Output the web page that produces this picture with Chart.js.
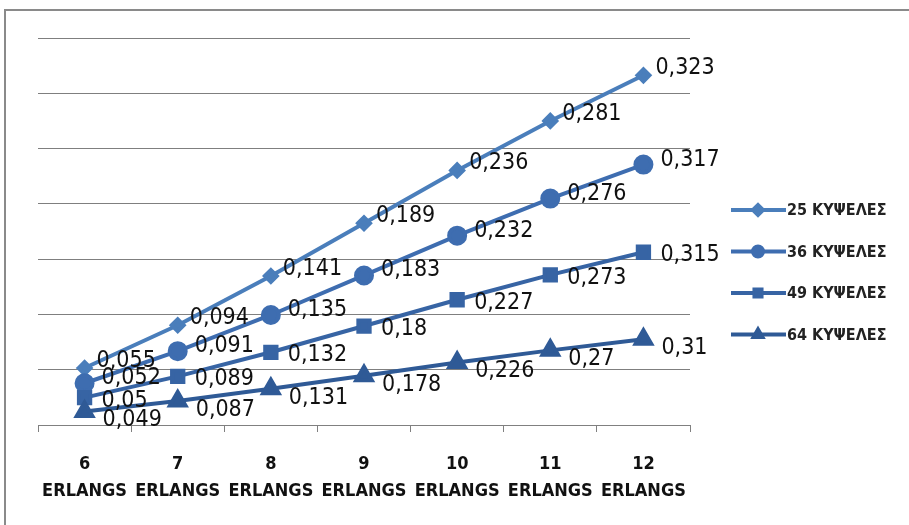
<!DOCTYPE html>
<html>
<head>
<meta charset="utf-8">
<script src="https://cdn.jsdelivr.net/npm/chart.js@4/dist/chart.umd.min.js"></script>
<style>
  html, body { margin: 0; padding: 0; background: #fff; }
  #wrap { width: 909px; height: 525px; }
</style>
</head>
<body>
<div id="wrap"><canvas id="chart"></canvas></div>
<script>
const categories = [['6', 'ERLANGS'], ['7', 'ERLANGS'], ['8', 'ERLANGS'], ['9', 'ERLANGS'], ['10', 'ERLANGS'], ['11', 'ERLANGS'], ['12', 'ERLANGS']];
const seriesNames = ['25 ΚΥΨΕΛΕΣ', '36 ΚΥΨΕΛΕΣ', '49 ΚΥΨΕΛΕΣ', '64 ΚΥΨΕΛΕΣ'];
const cells25 = [0.055, 0.094, 0.141, 0.189, 0.236, 0.281, 0.323];
const cells36 = [0.052, 0.091, 0.135, 0.183, 0.232, 0.276, 0.317];
const cells49 = [0.05, 0.089, 0.132, 0.18, 0.227, 0.273, 0.315];
const cells64 = [0.049, 0.087, 0.131, 0.178, 0.226, 0.27, 0.31];

const font = "'Liberation Sans Narrow', 'DejaVu Sans Condensed', sans-serif";

// Excel stacked line: first series drawn at the bottom, legend listed top-down
const series = [
  { name: seriesNames[3], data: cells64, color: '#2F5A96', style: 'triangle', radius: 9, dx: 18, dy: 9 },
  { name: seriesNames[2], data: cells49, color: '#3764A4', style: 'rect', radius: 8, dx: 17, dy: 3 },
  { name: seriesNames[1], data: cells36, color: '#3E6DB0', style: 'circle', radius: 8, dx: 17, dy: -5 },
  { name: seriesNames[0], data: cells25, color: '#4A7EBB', style: 'rectRot', radius: 6, dx: 12, dy: -7 }
];

const labelsAndFrame = {
  id: 'labelsAndFrame',
  afterDatasetsDraw(chart) {
    const ctx = chart.ctx;
    ctx.save();
    ctx.font = '23px ' + font;
    ctx.fillStyle = '#111';
    ctx.textAlign = 'left';
    ctx.textBaseline = 'middle';
    chart.data.datasets.forEach((ds, i) => {
      const meta = chart.getDatasetMeta(i);
      meta.data.forEach((pt, j) => {
        const txt = String(ds.data[j]).replace('.', ',');
        ctx.fillText(txt, pt.x + ds.dx, pt.y + ds.dy);
      });
    });
    ctx.restore();
  },
  afterDraw(chart) {
    const ctx = chart.ctx;
    ctx.save();
    // frame
    ctx.strokeStyle = '#8a8a8a';
    ctx.lineWidth = 2;
    ctx.beginPath();
    ctx.moveTo(5, 525);
    ctx.lineTo(5, 10);
    ctx.lineTo(909, 10);
    ctx.stroke();
    // legend, top item = last dataset
    const items = chart.data.datasets.slice().reverse();
    ctx.font = 'bold 16px ' + font;
    ctx.textBaseline = 'middle';
    items.forEach((ds, k) => {
      const y = 210 + k * 41.5;
      ctx.strokeStyle = ds.borderColor;
      ctx.lineWidth = 4;
      ctx.beginPath();
      ctx.moveTo(731, y);
      ctx.lineTo(786, y);
      ctx.stroke();
      Chart.helpers.drawPoint(ctx, {
        pointStyle: ds.pointStyle, radius: Math.min(ds.pointRadius, 5), rotation: 0, borderWidth: 1
      }, 758, y);
      ctx.fillStyle = ds.borderColor;
      ctx.fill();
      ctx.fillStyle = '#222';
      ctx.fillText(ds.label, 787, y + 1);
    });
    ctx.restore();
  }
};

new Chart(document.getElementById('chart'), {
  type: 'line',
  data: {
    labels: categories,
    datasets: series.map(s => ({
      label: s.name,
      data: s.data,
      borderColor: s.color,
      backgroundColor: s.color,
      pointBackgroundColor: s.color,
      pointBorderColor: s.color,
      borderWidth: 4,
      pointStyle: s.style,
      pointRadius: s.radius,
      pointHoverRadius: s.radius,
      fill: false,
      tension: 0,
      dx: s.dx,
      dy: s.dy
    }))
  },
  options: {
    responsive: true,
    maintainAspectRatio: false,
    animation: false,
    layout: { padding: { left: 38, right: 219, top: 38, bottom: 0 } },
    plugins: {
      legend: { display: false },
      tooltip: { enabled: false }
    },
    scales: {
      x: {
        offset: true,
        afterFit: s => { s.height = 100; },
        grid: { drawOnChartArea: false, drawTicks: true, tickLength: 7, color: '#808080', offset: true },
        border: { display: true, color: '#808080', width: 1 },
        ticks: {
          color: '#111',
          padding: 19,
          maxRotation: 0,
          font: { family: font, size: 18, weight: 'bold', lineHeight: 1.5 }
        }
      },
      y: {
        stacked: true,
        min: 0,
        max: 1.4,
        afterFit: s => { s.width = 0; },
        ticks: { display: false, stepSize: 0.2 },
        grid: { color: '#7f7f7f', drawTicks: false, lineWidth: 1 },
        border: { display: false }
      }
    }
  },
  plugins: [labelsAndFrame]
});
</script>
</body>
</html>
